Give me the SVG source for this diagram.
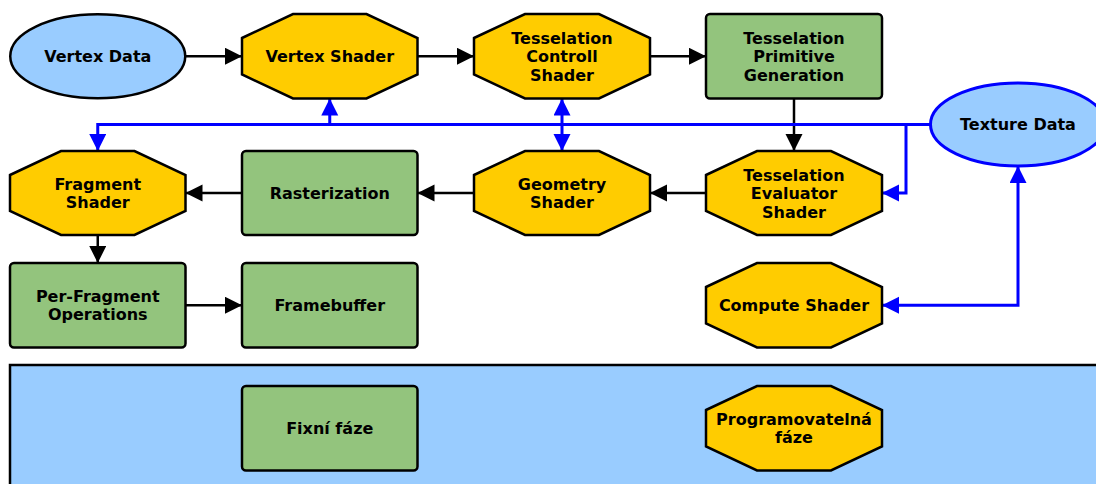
<svg xmlns="http://www.w3.org/2000/svg" width="1096" height="484" viewBox="0 0 1096 484">
<defs>
<style>
.prog{fill:#ffcc00;stroke:#000;stroke-width:2.5}
.fix{fill:#93c47d;stroke:#000;stroke-width:2.5}
.data{fill:#99ccff;stroke:#000;stroke-width:2.5}
.tex{fill:#99ccff;stroke:#0000ff;stroke-width:3}
text{font-family:"DejaVu Sans",sans-serif;font-weight:bold;font-size:16px;fill:#000;text-anchor:middle}
.c{fill:none;stroke:#000;stroke-width:2.5}
.b{fill:none;stroke:#0000ff;stroke-width:3}
</style>
<marker id="ak" markerUnits="userSpaceOnUse" markerWidth="18" markerHeight="18" refX="17" refY="8.5" orient="auto-start-reverse"><path d="M0,0 L17,8.5 L0,17 z" fill="#000"/></marker>
<marker id="ab" markerUnits="userSpaceOnUse" markerWidth="18" markerHeight="18" refX="17" refY="8.5" orient="auto-start-reverse"><path d="M0,0 L17,8.5 L0,17 z" fill="#0000ff"/></marker>
</defs>
<g id="legend">
<rect x="10" y="365" width="1100" height="140" fill="#99ccff" stroke="#000" stroke-width="2.5"/>
</g>
<g id="connectors">
<path class="c" d="M185.5,56.25 H242" marker-end="url(#ak)"/>
<path class="c" d="M417.5,56.25 H474" marker-end="url(#ak)"/>
<path class="c" d="M650,56.25 H706" marker-end="url(#ak)"/>
<path class="c" d="M794,98.5 V151" marker-end="url(#ak)"/>
<path class="c" d="M706,193 H650" marker-end="url(#ak)"/>
<path class="c" d="M474,193 H417.5" marker-end="url(#ak)"/>
<path class="c" d="M242,193 H185.5" marker-end="url(#ak)"/>
<path class="c" d="M97.75,235 V263" marker-end="url(#ak)"/>
<path class="c" d="M185.5,305.25 H242" marker-end="url(#ak)"/>
<path class="b" d="M931,124.5 H97.75 V151" marker-end="url(#ab)"/>
<path class="b" d="M329.75,124.5 V98.5" marker-end="url(#ab)"/>
<path class="b" d="M562,98.5 V151" marker-start="url(#ab)" marker-end="url(#ab)"/>
<path class="b" d="M906,124.5 V193 H882" marker-end="url(#ab)"/>
<path class="b" d="M882,305.25 H1018 V166" marker-start="url(#ab)" marker-end="url(#ab)"/>
</g>
<g id="vertex-data">
<ellipse class="data" cx="97.75" cy="56.25" rx="87.5" ry="42"/>
<text x="97.75" y="62">Vertex Data</text>
</g>
<g id="vertex-shader">
<polygon class="prog" points="242,38 293,14 366.5,14 417.5,38 417.5,74.5 366.5,98.5 293,98.5 242,74.5"/>
<text x="329.75" y="62">Vertex Shader</text>
</g>
<g id="tess-control">
<polygon class="prog" points="474,38 525,14 599,14 650,38 650,74.5 599,98.5 525,98.5 474,74.5"/>
<text x="562" y="43.5">Tesselation</text>
<text x="562" y="62">Controll</text>
<text x="562" y="80.5">Shader</text>
</g>
<g id="tess-primitive">
<rect class="fix" x="706" y="14" width="176" height="84.5" rx="4"/>
<text x="794" y="43.5">Tesselation</text>
<text x="794" y="62">Primitive</text>
<text x="794" y="80.5">Generation</text>
</g>
<g id="texture-data">
<ellipse class="tex" cx="1018" cy="124.5" rx="87.5" ry="41.5"/>
<text x="1018" y="130.2">Texture Data</text>
</g>
<g id="fragment-shader">
<polygon class="prog" points="10,175 61,151 134.5,151 185.5,175 185.5,211 134.5,235 61,235 10,211"/>
<text x="97.75" y="189.5">Fragment</text>
<text x="97.75" y="208">Shader</text>
</g>
<g id="rasterization">
<rect class="fix" x="242" y="151" width="175.5" height="84" rx="4"/>
<text x="329.75" y="198.7">Rasterization</text>
</g>
<g id="geometry-shader">
<polygon class="prog" points="474,175 525,151 599,151 650,175 650,211 599,235 525,235 474,211"/>
<text x="562" y="189.5">Geometry</text>
<text x="562" y="208">Shader</text>
</g>
<g id="tess-evaluator">
<polygon class="prog" points="706,175 757,151 831,151 882,175 882,211 831,235 757,235 706,211"/>
<text x="794" y="180.5">Tesselation</text>
<text x="794" y="199">Evaluator</text>
<text x="794" y="217.5">Shader</text>
</g>
<g id="per-fragment">
<rect class="fix" x="10" y="263" width="175.5" height="84.5" rx="4"/>
<text x="97.75" y="301.5">Per-Fragment</text>
<text x="97.75" y="320">Operations</text>
</g>
<g id="framebuffer">
<rect class="fix" x="242" y="263" width="175.5" height="84.5" rx="4"/>
<text x="329.75" y="311">Framebuffer</text>
</g>
<g id="compute-shader">
<polygon class="prog" points="706,287 757,263 831,263 882,287 882,323.5 831,347.5 757,347.5 706,323.5"/>
<text x="794" y="311">Compute Shader</text>
</g>
<g id="legend-fixed">
<rect class="fix" x="242" y="386" width="175.5" height="84.5" rx="4"/>
<text x="329.75" y="434">Fixní fáze</text>
</g>
<g id="legend-programmable">
<polygon class="prog" points="706,410 757,386 831,386 882,410 882,446.5 831,470.5 757,470.5 706,446.5"/>
<text x="794" y="424.5">Programovatelná</text>
<text x="794" y="443">fáze</text>
</g>
</svg>
